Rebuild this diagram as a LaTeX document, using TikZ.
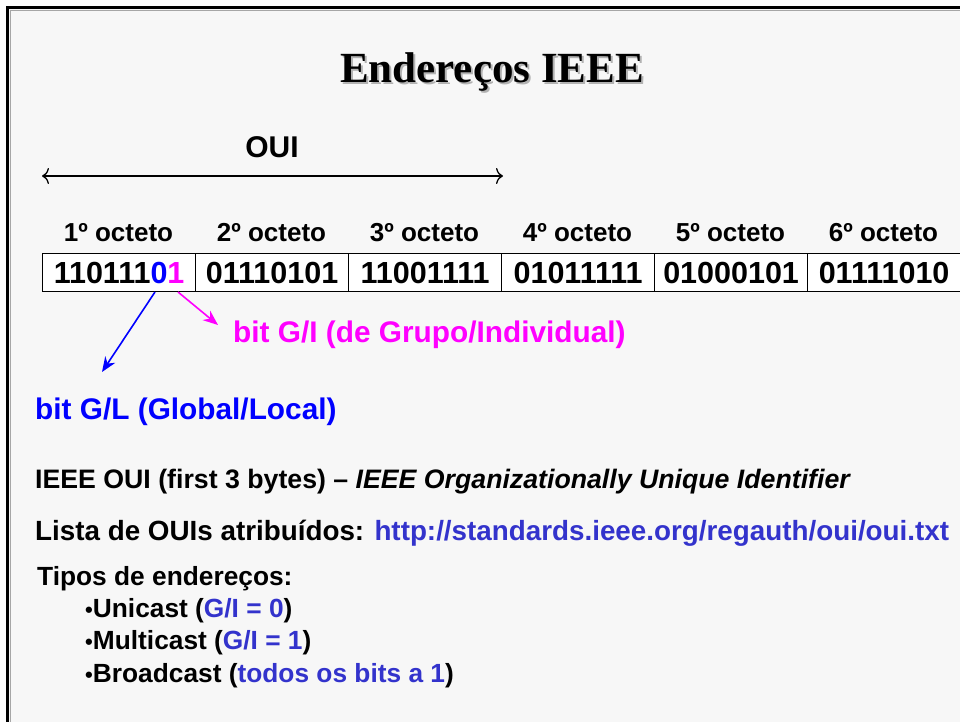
\documentclass[tikz,border=0pt]{standalone}
\usepackage{fontspec}
\setmainfont{Liberation Sans}
\newfontfamily\titlefont{Liberation Serif}
\usetikzlibrary{arrows.meta}
\definecolor{bg}{HTML}{F7F7F7}
\definecolor{gibit}{HTML}{FF00FF}
\definecolor{glbit}{HTML}{0000FF}
\definecolor{urlc}{HTML}{3333CC}
\newcommand{\fs}[1]{\fontsize{#1}{#1}\selectfont}
\newcommand{\smbul}{{\fs{22}•}}
\begin{document}
\begin{tikzpicture}[x=1pt,y=-1pt,
  cell/.style={draw=black,line width=1.2pt,fill=white,minimum width=153pt,minimum height=38pt,inner sep=0pt,anchor=north west,font=\fs{30.5}\bfseries},
  octlbl/.style={anchor=base,inner sep=0pt,font=\fs{26}\bfseries},
  txt/.style={anchor=base west,inner sep=0pt,font=\fs{26.3}\bfseries},
  bigtxt/.style={anchor=base west,inner sep=0pt,font=\fs{29.8}\bfseries}]
\useasboundingbox (0,0) rectangle (960,722);
\begin{scope}
\clip (0,0) rectangle (960,722);
\fill[white] (0,0) rectangle (960,722);
\draw[line width=3pt,fill=bg] (7.5,7.5) rectangle (1000,760);
\draw[line width=0.8pt,black!35] (10,1000) -- (10,10) -- (1000,10);
% title
\node[anchor=base,inner sep=0pt,text=black!30,font=\fs{43}\titlefont\bfseries] (titleshadow) at (494,85) {Endereços IEEE};
\node[anchor=base,inner sep=0pt,font=\fs{43}\titlefont\bfseries] (title) at (492,83) {Endereços IEEE};
% OUI arrow
\coordinate (ouiL) at (42,176);
\coordinate (ouiR) at (503,176);
\draw[line width=1.3pt,{To[length=7pt,width=16pt]}-{To[length=7pt,width=16pt]}] (ouiL) -- (ouiR);
\node[anchor=base,inner sep=0pt,font=\fs{30}\bfseries] (oui) at (272,158) {OUI};
% octet labels
\foreach \i/\n in {1/1,2/2,3/3,4/4,5/5,6/6}{
  \node[octlbl] (lbl\i) at ({42+153*(\i-0.5)},241) {\n º octeto};
}
% cells
\node[cell] (c1) at (42,253) {110111{\color{glbit}0}{\color{gibit}1}};
\node[cell] (c2) at (195,253) {01110101};
\node[cell] (c3) at (348,253) {11001111};
\node[cell] (c4) at (501,253) {01011111};
\node[cell] (c5) at (654,253) {01000101};
\node[cell] (c6) at (807,253) {01111010};
\end{scope}
% bit arrows
\coordinate (glstart) at (155,292);
\coordinate (glend) at (102,372);
\coordinate (gistart) at (178,292);
\coordinate (giend) at (218,325);
\draw[glbit,line width=1.6pt,-{Stealth[length=15pt,width=12pt]}] (glstart) -- (glend);
\draw[gibit,line width=1.6pt,-{Stealth[length=15pt,width=12pt]}] (gistart) -- (giend);
\node[bigtxt,text=gibit] (gilbl) at (233,342) {bit G/I (de Grupo/Individual)};
\node[bigtxt,text=glbit] (gllbl) at (35,419) {bit G/L (Global/Local)};
% lower text
\node[txt,font=\fs{26.7}\bfseries] (ieee) at (35,488) {IEEE OUI (first 3 bytes) – \textit{IEEE Organizationally Unique Identifier}};
\node[txt,font=\fs{27.8}\bfseries] (lista) at (35,540) {Lista de OUIs atribuídos: \textcolor{urlc}{http://standards.ieee.org/regauth/oui/oui.txt}};
\node[txt] (tipos) at (37,585) {Tipos de endereços:};
\node[txt] (uni) at (85,617) {\smbul Unicast (\textcolor{urlc}{G/I = 0})};
\node[txt] (multi) at (85,649) {\smbul Multicast (\textcolor{urlc}{G/I = 1})};
\node[txt] (broad) at (85,682) {\smbul Broadcast (\textcolor{urlc}{todos os bits a 1})};
\end{tikzpicture}
\end{document}
